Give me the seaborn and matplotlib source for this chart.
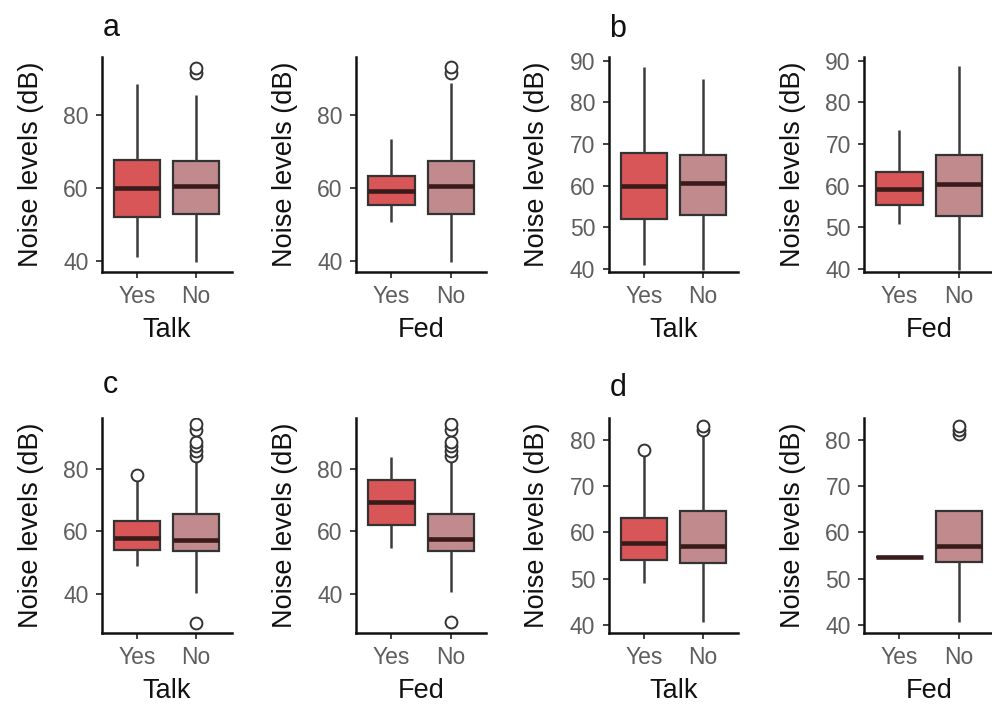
import numpy as np
import pandas as pd
import matplotlib
matplotlib.use("Agg")
import matplotlib.pyplot as plt
import seaborn as sns

# ---- data (box stats: low whisker, Q1, median, Q3, high whisker) ----
groups = ["Yes", "No"]

# panel a / b (same data, b without outliers)
ab_talk_yes = [41.0, 52.0, 60.0, 67.8, 88.5]
ab_talk_no = [39.7, 53.0, 60.6, 67.5, 85.6]
ab_talk_no_out = [91.5, 93.0]
ab_fed_yes = [50.7, 55.3, 59.3, 63.3, 73.4]
ab_fed_no = [39.7, 52.8, 60.5, 67.5, 88.7]
ab_fed_no_out = [91.6, 93.2]

# panel c
c_talk_yes = [48.9, 54.0, 57.9, 63.2, 76.2]
c_talk_yes_out = [78.0]
c_talk_no = [40.5, 53.6, 57.2, 65.5, 82.9]
c_talk_no_out = [30.9, 84.1, 85.5, 87.1, 88.4, 92.4, 94.3]
c_fed_yes = [54.7, 62.0, 69.2, 76.3, 83.7]
c_fed_no = [40.7, 53.7, 57.4, 65.5, 82.9]
c_fed_no_out = [31.1, 84.1, 85.5, 87.1, 88.4, 92.4, 94.3]

# panel d
d_talk_yes = [49.0, 54.0, 57.7, 63.2, 76.6]
d_talk_yes_out = [77.8]
d_talk_no = [40.6, 53.4, 57.0, 64.6, 81.2]
d_talk_no_out = [82.2, 83.0]
d_fed_yes_value = 54.6
d_fed_no = [40.6, 53.7, 57.1, 64.6, 81.2]
d_fed_no_out = [82.2, 83.0]

YES_COLOR = "#d85558"
NO_COLOR = "#c18b8e"


def sample_from_stats(stats, outliers=()):
    """Observations whose box-plot summary reproduces the read stats."""
    lo, q1, med, q3, hi = stats
    k = 20
    return [lo] + [q1] * k + [med] * k + [q3] * k + [hi] + list(outliers)


def frame(yes_vals, no_vals, xname):
    rows = [(xname, "Yes", v) for v in yes_vals] + [(xname, "No", v) for v in no_vals]
    return pd.DataFrame(rows, columns=["var", "group", "noise"])


panels = [
    # (row, col, xlabel, yes data, no data, ylim, yticks, showfliers)
    (0, 0, "Talk", sample_from_stats(ab_talk_yes), sample_from_stats(ab_talk_no, ab_talk_no_out),
     (37.0, 95.9), [40, 60, 80], True),
    (0, 1, "Fed", sample_from_stats(ab_fed_yes), sample_from_stats(ab_fed_no, ab_fed_no_out),
     (37.0, 95.9), [40, 60, 80], True),
    (0, 2, "Talk", sample_from_stats(ab_talk_yes), sample_from_stats(ab_talk_no, ab_talk_no_out),
     (39.3, 90.9), [40, 50, 60, 70, 80, 90], False),
    (0, 3, "Fed", sample_from_stats(ab_fed_yes), sample_from_stats(ab_fed_no, ab_fed_no_out),
     (39.3, 90.9), [40, 50, 60, 70, 80, 90], False),
    (1, 0, "Talk", sample_from_stats(c_talk_yes, c_talk_yes_out), sample_from_stats(c_talk_no, c_talk_no_out),
     (27.6, 96.1), [40, 60, 80], True),
    (1, 1, "Fed", sample_from_stats(c_fed_yes), sample_from_stats(c_fed_no, c_fed_no_out),
     (27.6, 96.1), [40, 60, 80], True),
    (1, 2, "Talk", sample_from_stats(d_talk_yes, d_talk_yes_out), sample_from_stats(d_talk_no, d_talk_no_out),
     (38.3, 84.7), [40, 50, 60, 70, 80], True),
    (1, 3, "Fed", [d_fed_yes_value] * 10, sample_from_stats(d_fed_no, d_fed_no_out),
     (38.3, 84.7), [40, 50, 60, 70, 80], True),
]

sns.set_theme(style="white")
plt.rcParams["font.family"] = ["Liberation Sans", "DejaVu Sans"]

W, H = 992, 706
fig = plt.figure(figsize=(W / 100, H / 100), dpi=100)

col_left = [101.7, 356.0, 608.5, 864.0]
row_top = [57.0, 418.0]
ax_w, ax_h = 130.0, 215.0

for (r, c, xlabel, yes_vals, no_vals, ylim, yticks, showfliers) in panels:
    left = col_left[c] / W
    bottom = (H - row_top[r] - ax_h) / H
    ax = fig.add_axes([left, bottom, ax_w / W, ax_h / H])
    df = frame(yes_vals, no_vals, xlabel)
    sns.boxplot(
        data=df, x="group", y="noise", hue="group", order=groups, hue_order=groups,
        palette={"Yes": YES_COLOR, "No": NO_COLOR}, legend=False, ax=ax,
        width=0.78, whis=1.5, showfliers=showfliers, saturation=1,
        linecolor="#333333", linewidth=1.6,
        medianprops=dict(color="#3a1b1b", linewidth=3.3),
        whiskerprops=dict(color="#3c3c3c", linewidth=1.8),
        capprops=dict(linewidth=0),
        flierprops=dict(marker="o", markersize=8.5, markerfacecolor="white",
                        markeredgecolor="#333333", markeredgewidth=1.4),
    )
    ax.set_xlim(-0.6, 1.6)
    ax.set_ylim(*ylim)
    ax.set_yticks(yticks)
    ax.set_xlabel(xlabel, fontsize=19.5, color="#111111", labelpad=6)
    ax.set_ylabel("Noise levels (dB)", fontsize=19.5, color="#111111", labelpad=14)
    ax.tick_params(axis="both", which="both", direction="out", length=4.5, width=1.3,
                   color="#333333", labelsize=16.5, labelcolor="#5e5e5e", pad=5,
                   bottom=True, left=True)
    sns.despine(ax=ax)
    for side in ("left", "bottom"):
        ax.spines[side].set_linewidth(1.8)
        ax.spines[side].set_color("#111111")
    ax.set_facecolor("white")

letters = [("a", 103, 36), ("b", 609, 37), ("c", 103, 393), ("d", 610, 396)]
for txt, x, y in letters:
    fig.text(x / W, 1 - y / H, txt, fontsize=22, color="#111111", ha="left", va="baseline")

fig.savefig("out.png", dpi=100, facecolor="white")
